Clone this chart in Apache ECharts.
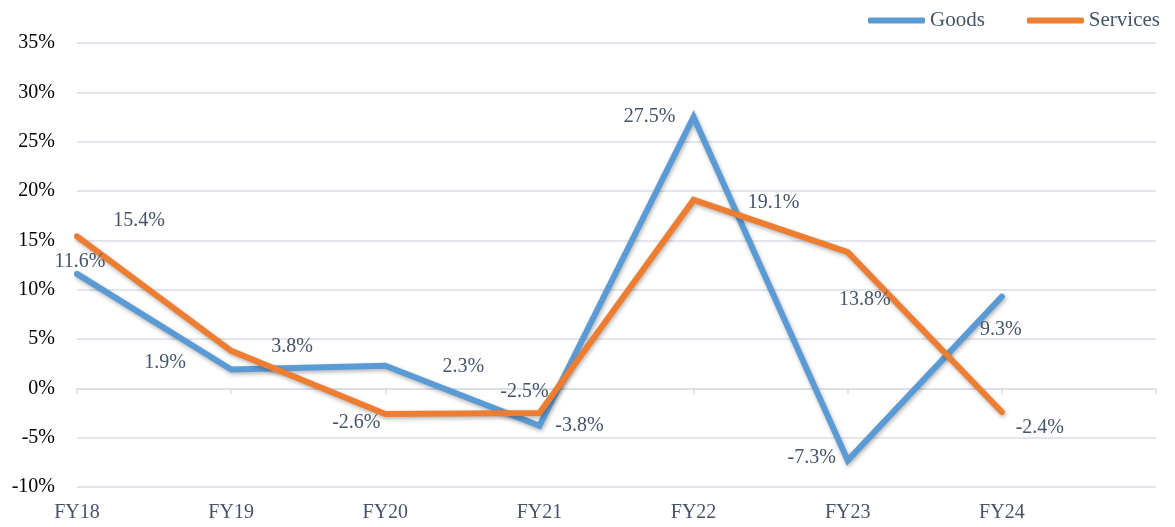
<!DOCTYPE html>
<html>
<head>
<meta charset="utf-8">
<script src="https://cdn.jsdelivr.net/npm/echarts@6/dist/echarts.min.js"></script>
<style>
  html, body { margin: 0; padding: 0; background: #fff; }
  #chart { width: 1175px; height: 527px; }
</style>
</head>
<body>
<div id="chart"></div>
<script>
  // data
  var categories = ['FY18', 'FY19', 'FY20', 'FY21', 'FY22', 'FY23', 'FY24', ''];
  var goods = [11.6, 1.9, 2.3, -3.8, 27.5, -7.3, 9.3];
  var services = [15.4, 3.8, -2.6, -2.5, 19.1, 13.8, -2.4];
  var yTicks = { min: -10, max: 35, interval: 5 };

  // where each data label sits relative to its point (px)
  var goodsLabelOffset = [[3, -12], [-66, -7], [78, 1], [40, 0], [-44, 0], [-36, -3], [-1, 33]];
  var servicesLabelOffset = [[62, -16], [61, -4], [-29, 9], [-15, -21], [80, 3], [17, 48], [38, 16]];

  var fontFamily = 'Liberation Serif, serif';
  var slate = '#44546A';
  var gridColor = '#D9DDE5';

  function withLabels(values, offsets) {
    return values.map(function (v, i) {
      return { value: v, label: { offset: offsets[i] } };
    });
  }

  function lineSeries(name, values, offsets) {
    return {
      name: name,
      type: 'line',
      data: withLabels(values, offsets),
      symbol: 'circle',
      symbolSize: 0,
      silent: true,
      lineStyle: {
        width: 6,
        cap: 'round',
        join: 'miter',
        shadowColor: 'rgba(0,0,0,0.3)',
        shadowBlur: 4,
        shadowOffsetX: 1,
        shadowOffsetY: 2
      },
      label: {
        show: true,
        position: 'inside',
        formatter: '{c}%',
        color: slate,
        fontFamily: fontFamily,
        fontSize: 20
      },
      emphasis: { disabled: true },
      animation: false
    };
  }

  var myChart = echarts.init(document.getElementById('chart'));
  myChart.setOption({
    animation: false,
    color: ['#5B9BD5', '#ED7D31'],
    legend: {
      right: 10,
      top: 5,
      icon: 'roundRect',
      itemWidth: 57,
      itemHeight: 6,
      itemGap: 42,
      textStyle: { color: slate, fontFamily: fontFamily, fontSize: 21 },
      data: ['Goods', 'Services']
    },
    grid: {
      left: 77,
      right: 19,
      top: 43,
      bottom: 40,
      containLabel: false,
      outerBoundsMode: 'none'
    },
    xAxis: [
      {
        type: 'category',
        data: categories,
        boundaryGap: false,
        position: 'bottom',
        axisLine: { show: false, onZero: false },
        axisTick: { show: false },
        axisLabel: {
          color: slate,
          fontFamily: fontFamily,
          fontSize: 20,
          margin: 16,
          interval: 0
        }
      },
      {
        type: 'category',
        data: categories,
        boundaryGap: false,
        position: 'bottom',
        axisLine: { show: true, onZero: true, lineStyle: { color: gridColor, width: 1.5 } },
        axisTick: { show: true, length: 6, lineStyle: { color: gridColor, width: 1.5 }, interval: 0 },
        axisLabel: { show: false }
      }
    ],
    yAxis: {
      type: 'value',
      min: yTicks.min,
      max: yTicks.max,
      interval: yTicks.interval,
      axisLine: { show: false },
      axisTick: { show: false },
      splitLine: { lineStyle: { color: gridColor, width: 1.5 } },
      axisLabel: {
        formatter: '{value}%',
        color: '#000',
        fontFamily: fontFamily,
        fontSize: 20,
        margin: 22
      }
    },
    series: [
      lineSeries('Goods', goods, goodsLabelOffset),
      lineSeries('Services', services, servicesLabelOffset)
    ]
  });
</script>
</body>
</html>
